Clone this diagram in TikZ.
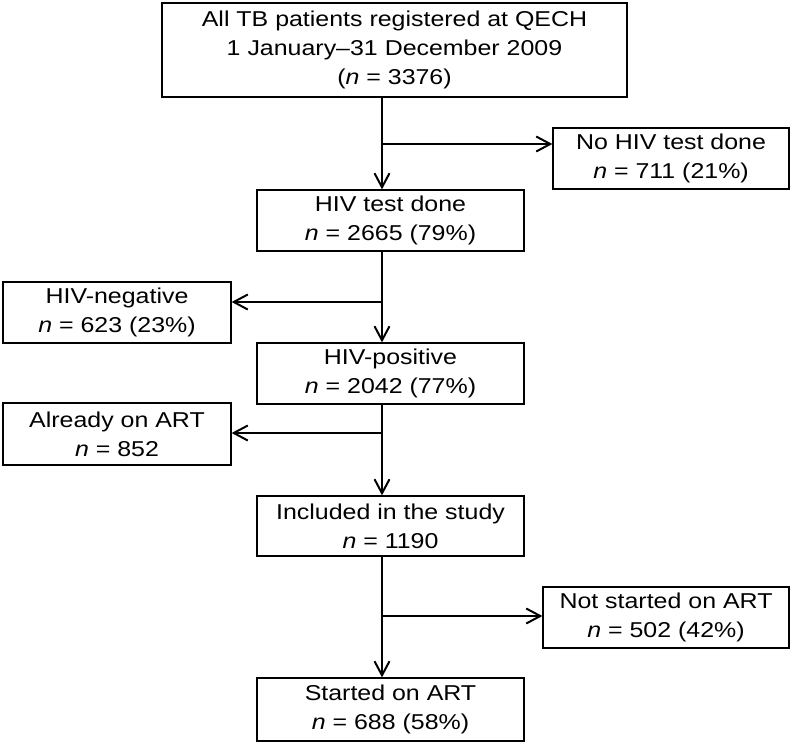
\documentclass[tikz,border=0pt]{standalone}
\usepackage{fontspec}
\setmainfont{Liberation Sans}[FakeStretch=1.16]
\usetikzlibrary{arrows.meta}

\begin{document}
\begin{tikzpicture}[>={Straight Barb[length=14pt,width=15pt]}, x=1pt, y=-1pt]
				\tikzstyle{box} = [rectangle,draw=black,line width=1.3pt,inner sep=0pt,align=center,font=\fontsize{21.5}{29}\selectfont];
				\tikzstyle{link} = [line width=2pt];
				\useasboundingbox (0, 0) rectangle (791, 742);
				\node[box,minimum width=465pt,minimum height=94pt] (all) at (394.5, 50) {All TB patients registered at QECH\\1 January--31 December 2009\\(\textit{n} = 3376)};
				\node[box,minimum width=236pt,minimum height=61pt] (notest) at (671, 158.5) {No HIV test done\\\textit{n} = 711 (21\%)};
				\node[box,minimum width=267pt,minimum height=61pt] (tested) at (390.5, 220.5) {HIV test done\\\textit{n} = 2665 (79\%)};
				\node[box,minimum width=228pt,minimum height=61pt] (neg) at (117, 312.5) {HIV-negative\\\textit{n} = 623 (23\%)};
				\node[box,minimum width=267pt,minimum height=61pt] (pos) at (390.5, 373.5) {HIV-positive\\\textit{n} = 2042 (77\%)};
				\node[box,minimum width=228pt,minimum height=62pt] (onart) at (117, 434) {Already on ART\\\textit{n} = 852};
				\node[box,minimum width=267pt,minimum height=60pt] (incl) at (390.5, 526) {Included in the study\\\textit{n} = 1190};
				\node[box,minimum width=246pt,minimum height=61pt] (notstarted) at (666, 617.5) {Not started on ART\\\textit{n} = 502 (42\%)};
				\node[box,minimum width=267pt,minimum height=63pt] (started) at (390.5, 709.5) {Started on ART\\\textit{n} = 688 (58\%)};
				\coordinate (trunk) at (382, 0);
				\coordinate (b1) at (382, 144);
				\coordinate (b2) at (382, 302);
				\coordinate (b3) at (382, 433);
				\coordinate (b4) at (382, 616);
				\draw[->,style=link] (all.south -| trunk) -- (tested.north -| trunk);
				\draw[->,style=link] (tested.south -| trunk) -- (pos.north -| trunk);
				\draw[->,style=link] (pos.south -| trunk) -- (incl.north -| trunk);
				\draw[->,style=link] (incl.south -| trunk) -- (started.north -| trunk);
				\draw[->,style=link] (b1) -- (b1 -| notest.west);
				\draw[->,style=link] (b2) -- (b2 -| neg.east);
				\draw[->,style=link] (b3) -- (b3 -| onart.east);
				\draw[->,style=link] (b4) -- (b4 -| notstarted.west);
			\end{tikzpicture}
\end{document}
